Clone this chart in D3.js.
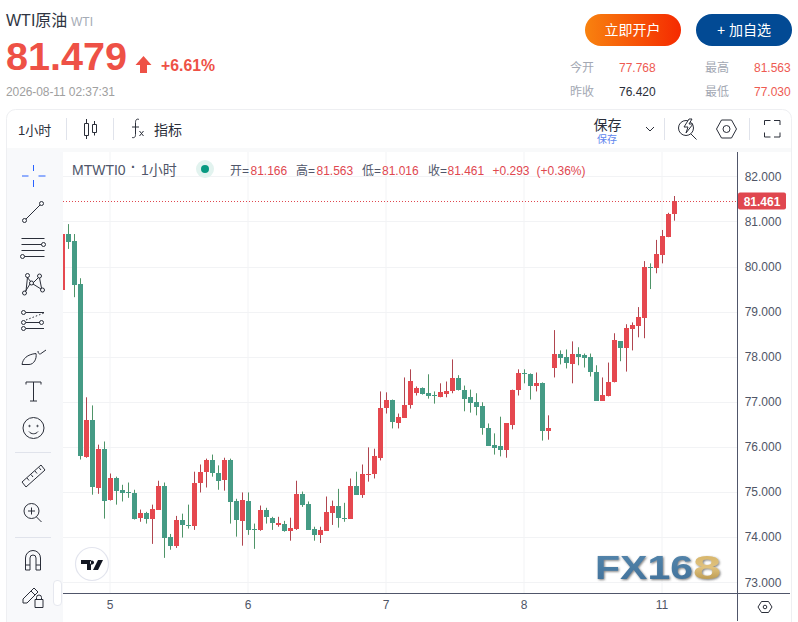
<!DOCTYPE html>
<html><head><meta charset="utf-8">
<script src="https://cdn.jsdelivr.net/npm/d3@7/dist/d3.min.js"></script>
<style>html,body{margin:0;padding:0;background:#fff;overflow:hidden}svg{display:block}text{font-family:"Liberation Sans","Noto Sans CJK SC",sans-serif}</style>
</head><body><div id="c"></div>
<script>
const opens=[79.47,80.72,80.56,79.61,75.76,76.59,75.10,75.96,74.81,75.30,75.05,75.00,74.98,74.43,74.54,74.41,74.61,75.14,74.01,73.81,74.39,74.27,74.25,75.21,75.43,75.70,75.43,75.25,75.70,74.79,74.36,74.81,74.18,74.14,74.59,74.43,74.27,74.30,74.14,74.19,74.96,74.74,74.19,74.05,74.14,74.54,74.70,74.43,74.41,75.14,74.94,75.39,75.39,75.76,76.85,77.03,76.54,76.65,76.94,77.19,77.30,77.19,77.14,77.10,77.19,77.23,77.52,77.27,77.10,76.99,76.90,76.43,76.05,76.01,75.92,76.50,77.25,77.63,77.61,77.34,77.41,76.34,77.74,78.07,77.99,77.85,78.07,78.03,77.99,77.67,77.03,77.14,77.43,78.34,78.19,78.61,78.67,78.85,79.99,79.96,80.25,80.65,81.166];
const closes=[80.72,80.54,79.59,75.79,76.59,75.10,75.96,74.81,75.30,75.01,74.98,74.99,74.41,74.54,74.41,74.63,75.14,73.99,73.81,74.39,74.27,74.26,75.21,75.45,75.70,75.41,75.25,75.70,74.76,74.36,74.83,74.16,74.17,74.59,74.43,74.32,74.32,74.14,74.21,74.96,74.72,74.16,74.05,74.16,74.56,74.70,74.43,74.41,75.14,74.94,75.41,75.41,75.79,76.87,77.03,76.54,76.67,76.94,77.47,77.30,77.16,77.12,77.12,77.21,77.25,77.52,77.25,77.07,76.96,76.87,76.41,76.03,75.99,75.92,76.52,77.27,77.63,77.62,77.34,77.41,76.34,76.41,78.05,77.99,77.85,78.07,78.01,77.96,77.65,77.03,77.16,77.45,78.36,78.19,78.63,78.70,78.87,79.99,79.98,80.27,80.67,81.16,81.461];
const highs=[80.72,80.94,80.72,79.74,77.10,76.92,76.05,76.12,75.41,75.34,75.16,75.21,75.05,74.61,74.56,74.72,75.25,75.21,74.07,74.47,74.52,74.72,75.45,75.61,75.74,75.83,75.59,75.76,75.74,74.85,74.99,74.99,74.30,74.70,74.65,74.45,74.45,74.36,74.43,75.25,75.01,74.79,74.23,74.23,74.90,74.81,75.07,74.76,75.30,75.45,75.61,75.99,75.96,77.23,77.21,77.05,76.74,77.54,77.72,77.34,77.32,77.61,77.23,77.41,77.45,77.94,77.59,77.36,77.27,77.19,76.99,76.52,76.30,76.67,76.52,77.27,77.72,77.72,77.63,77.65,77.43,76.70,78.59,78.14,78.16,78.34,78.21,78.07,78.07,77.81,77.54,77.87,78.52,78.34,78.72,78.76,79.10,80.12,80.07,80.59,80.81,81.19,81.563];
const lows=[79.47,80.39,79.32,75.72,75.76,74.94,74.96,74.41,74.81,74.72,74.79,74.87,74.39,74.34,74.30,73.85,74.61,73.54,73.72,73.76,73.99,74.19,74.16,74.99,75.10,75.34,75.05,75.03,74.30,74.01,73.81,74.05,73.74,74.14,74.30,74.16,74.23,74.12,73.92,74.16,74.67,74.16,73.92,73.87,74.14,74.27,74.21,74.34,74.41,74.94,74.87,75.23,75.30,75.70,76.74,76.41,76.41,76.65,76.85,77.14,77.16,77.07,76.96,77.10,77.10,77.19,77.25,76.79,76.76,76.70,76.27,76.03,75.83,75.79,75.76,76.39,77.14,77.41,77.05,77.23,76.14,76.16,77.54,77.83,77.74,77.41,77.81,77.76,77.56,77.03,77.03,77.12,77.43,77.90,77.67,78.14,78.43,78.41,79.50,79.85,80.07,80.65,81.016];
const priceTicks=[73,74,75,76,77,78,79,80,81,82];
const dayTickIndex=[8,31,54,77,100];
const dayTickLabels=["5","6","7","8","11"];
const lastPrice=81.461;
const legendParts=[["开=",230,"#50566a"],["81.166",250.5,"#e0474f"],["高=",296,"#50566a"],["81.563",316.5,"#e0474f"],["低=",362,"#50566a"],["81.016",382,"#e0474f"],["收=",428,"#50566a"],["81.461",447.5,"#e0474f"],["+0.293",492.5,"#e0474f"],["(+0.36%)",536.5,"#e0474f"]];
const statRows=[["今开","77.768","#ee5a52",570,619,72],["最高","81.563","#ee5a52",705,754,72],["昨收","76.420","#2a2e39",570,619,96],["最低","77.030","#ee5a52",705,754,96]];

const W=798,H=622,L=63,R=737,T=152,B=593;
const svg=d3.select("#c").append("svg").attr("width",W).attr("height",H);
const defs=svg.append("defs");
const g1=defs.append("linearGradient").attr("id","btn");
g1.append("stop").attr("offset","0").attr("stop-color","#f8820f");
g1.append("stop").attr("offset","1").attr("stop-color","#f52a00");
const g2=defs.append("linearGradient").attr("id","gold").attr("x1",0).attr("x2",0).attr("y1",0).attr("y2",1);
g2.append("stop").attr("offset","0").attr("stop-color","#d4b060");
g2.append("stop").attr("offset","0.5").attr("stop-color","#e0c27e");
g2.append("stop").attr("offset","1").attr("stop-color","#a9853a");
const g3=defs.append("linearGradient").attr("id","blue").attr("x1",0).attr("x2",0).attr("y1",0).attr("y2",1);
g3.append("stop").attr("offset","0").attr("stop-color","#5687ad");
g3.append("stop").attr("offset","1").attr("stop-color","#3f7099");
defs.append("filter").attr("id","sh").append("feDropShadow").attr("dx",1).attr("dy",1).attr("stdDeviation",0.8).attr("flood-color","#444").attr("flood-opacity",0.7);
defs.append("clipPath").attr("id","plot").append("rect").attr("x",L).attr("y",T).attr("width",R-L).attr("height",B-T);

const txt=(s,x,y,size,fill,opt={})=>{const t=svg.append("text").attr("x",x).attr("y",y).attr("font-size",size).attr("fill",fill).text(s);
 if(opt.weight)t.attr("font-weight",opt.weight); if(opt.anchor)t.attr("text-anchor",opt.anchor); if(opt.len)t.attr("textLength",opt.len); return t;};

// header
txt("WTI原油",6,26,16,"#2f3542");
txt("WTI",71,26,12,"#a5abb6");
txt("81.479",6,70,39.6,"#ee5146",{weight:"bold"});
svg.append("path").attr("d","M143.500 56 L151.500 65 L147 65 L147 73 L140 73 L140 65 L135.500 65 Z").attr("fill","#ee5146");
txt("+6.61%",161,71,15.8,"#ee5146",{weight:"bold"});
txt("2026-08-11 02:37:31",6,96,12,"#a0a0a0",{len:109});
svg.append("rect").attr("x",585).attr("y",14).attr("width",96).attr("height",32).attr("rx",16).attr("fill","url(#btn)");
txt("立即开户",632.5,35,14,"#fff",{anchor:"middle"});
svg.append("rect").attr("x",696).attr("y",14).attr("width",96).attr("height",32).attr("rx",16).attr("fill","#024a94");
txt("+ 加自选",744,35,14,"#fff",{anchor:"middle"});
statRows.forEach(r=>{txt(r[0],r[3],r[5],12,"#a3a8b3");txt(r[1],r[4],r[5],12,r[2]);});

// card and toolbars
svg.append("rect").attr("x",6.5).attr("y",109.5).attr("width",785).attr("height",530).attr("rx",9).attr("fill","#fff").attr("stroke","#eeeff2");
svg.append("rect").attr("x",7).attr("y",148).attr("width",784).attr("height",4).attr("fill","#f8f9fa");
svg.append("rect").attr("x",7).attr("y",150).attr("width",56).attr("height",472).attr("fill","#f8f9fb");
svg.append("rect").attr("x",60).attr("y",152).attr("width",3).attr("height",470).attr("fill","#f7f8fa");
[66.5,113.500,664.5,749.5].forEach(x=>svg.append("line").attr("x1",x).attr("x2",x).attr("y1",118).attr("y2",140).attr("stroke","#e0e3eb"));
txt("1小时",18,135,13,"#2a2e39");
txt("指标",154,135,14,"#2a2e39");
txt("保存",593.5,130,14,"#2a2e39");
txt("保存",597,143,10,"#5f86ee");
const ic=svg.append("g").attr("fill","none").attr("stroke","#2a2e39").attr("stroke-width",1);
const p=(d,s)=>{const e=ic.append("path").attr("d",d); if(s)e.attr("stroke",s); return e;};
const c=(x,y,r)=>ic.append("circle").attr("cx",x).attr("cy",y).attr("r",r);
// candle icon
p("M84.500 123.500h4v12h-4zM86.500 119v4.500M86.500 135.500v3.500M92.500 124.500h4v8h-4zM94.500 121v3.500M94.500 132.500v3");
// fx
p("M139 119.500c-2-1-3.500 0-3.500 3v12c0 3-1.500 3.500-3.500 3M132 127h7M139.500 131l4 5M143.500 131l-4 5");
// chevron
p("M646 127l4 4 4-4");
// flash search
c(686,128,7.500);p("M691 134l5.500 5.500");p("M689 119l-5 8h4l-2 6 7-9h-4l3-5z").attr("fill","#fff");
// hexagon
p("M716.500 129l5-9h10l5 9-5 9h-10z");c(726.5,129,3.500);
// fullscreen
p("M764.500 125v-4.500h6M774 120.500h6v4.500M764.500 132.500v4.500h6M774 137h6v-4.500");
// left tools
p("M33.500 165v6M33.500 180v7M22 176h6.500M38.500 176h7","#2962ff");
c(24.5,220.5,2);c(41.5,203.5,2);p("M26 219l14-14");
p("M21.500 238.500h23M21.500 244.500h20M21.500 250.500h23M24.500 256.500h20");c(43.5,244.5,2);c(22.5,256.5,2);
[[27.5,275.500],[39.500,276],[31.500,283],[24.5,293],[42.500,290]].forEach(a=>c(a[0],a[1],2));
p("M27 277l4 5M38 278l-5 5M26 291l1.500-14M41.500 288l-2-10M33 284l8 5M30 284l-5 8");
c(23.500,312.500,2);c(23.500,322.500,2);c(41.500,322.500,2);c(23.500,328.500,2);
p("M26 312.500h18M26 322.500h14M26 328.500h18");p("M26 320l18-7").attr("stroke-dasharray","1.500 2");
p("M22 364.500c1-6 5-10 14-11 1 5-2 11-7 11zM38 351c0 3 2 3.500 3 2.500l5-3.500");
p("M26 384.500v-2.500h15v2.500M33.500 382v19M30 401h7");
c(33.500,428,10.500);c(29.500,426,.7);c(37.500,426,.7);p("M29 431.500c2 3 7 3 9 0");
svg.append("line").attr("x1",15).attr("x2",51).attr("y1",452.5).attr("y2",452.5).attr("stroke","#e0e3eb");
p("M22 482l19-17 4 5-19 17zM27 478l2 2.500M31 474.500l2 2.500M35 471l2 2.500M39 467.500l2 2.500");
c(31.500,511,7.500);p("M36.500 517l5 5M28 511h7M31.500 507.500v7");
svg.append("line").attr("x1",15).attr("x2",51).attr("y1",537.5).attr("y2",537.5).attr("stroke","#e0e3eb");
p("M25.500 570v-12a7.500 7.500 0 0 1 15 0v12h-4.500v-12a3 3 0 0 0-6 0v12zM25.500 565h4.500M36 565h4.500");
p("M23 599l11-11 4 4-11 11h-4zM31 591l4 4");p("M35 599.500h8v8h-8zM36.500 599.500v-2a2.500 2.500 0 0 1 5 0v2");

// scales
const y=d3.scaleLinear().domain([73,82]).range([582.2,176.3]);
const x=d3.scaleLinear().domain([0,102]).range([62.5,674.5]);
const plot=svg.append("g").attr("clip-path","url(#plot)");
plot.selectAll(".h").data(priceTicks).join("line").attr("x1",L).attr("x2",R).attr("y1",d=>Math.round(y(d))+.5).attr("y2",d=>Math.round(y(d))+.5).attr("stroke","#f2f3f5");
plot.selectAll(".v").data(dayTickIndex).join("line").attr("x1",d=>x(d)-.5).attr("x2",d=>x(d)-.5).attr("y1",T).attr("y2",B).attr("stroke","#f2f3f5");

const idx=d3.range(opens.length);
const up=i=>closes[i]>=opens[i]&&!(i===98||i===77||i===62||i===61||i===47||i===32||i===21||i===11);
plot.selectAll(".w").data(idx).join("rect").attr("x",i=>x(i)-.5).attr("width",1)
 .attr("y",i=>y(highs[i])).attr("height",i=>y(lows[i])-y(highs[i]))
 .attr("fill",i=>up(i)?"#b0454f":"#4f9468");
plot.selectAll(".b").data(idx).join("rect").attr("x",i=>x(i)-2.5).attr("width",5)
 .attr("y",i=>Math.round(y(Math.max(opens[i],closes[i]))))
 .attr("height",i=>Math.max(1,Math.round(Math.abs(y(opens[i])-y(closes[i])))))
 .attr("fill",i=>up(i)?"#e5484f":"#459b85");

// price line
plot.append("line").attr("x1",L).attr("x2",R).attr("y1",Math.round(y(lastPrice))+.5).attr("y2",Math.round(y(lastPrice))+.5).attr("stroke","#e0474f").attr("stroke-dasharray","1 2");

// axes
const ay=d3.axisRight(y).tickValues(priceTicks).tickFormat(d3.format(".3f")).tickSize(0).tickPadding(0);
const gy=svg.append("g").attr("transform",`translate(763,0)`).call(ay);
gy.select(".domain").remove();
gy.selectAll("text").attr("x",0).attr("text-anchor","middle").attr("font-size",12).attr("fill","#4f5566").attr("font-family",'"Liberation Sans",sans-serif');
const ax=d3.axisBottom(x).tickValues(dayTickIndex).tickFormat((d,i)=>dayTickLabels[i]).tickSize(0).tickPadding(0);
const gx=svg.append("g").attr("transform",`translate(-1,600)`).call(ax);
gx.select(".domain").remove();
gx.selectAll("text").attr("font-size",12).attr("fill","#4f5566").attr("font-family",'"Liberation Sans",sans-serif');
svg.append("line").attr("x1",63).attr("x2",790).attr("y1",593.5).attr("y2",593.5).attr("stroke","#50566a");
svg.append("line").attr("x1",737.5).attr("x2",737.5).attr("y1",152).attr("y2",621).attr("stroke","#50566a");
svg.append("rect").attr("x",738).attr("y",192.5).attr("width",48).attr("height",17).attr("rx",2).attr("fill","#e0474f");
txt(lastPrice.toFixed(3),762,206,12,"#fff",{weight:"bold",anchor:"middle"});
p("M758 607l3.500-5.500h7l3.500 5.500-3.500 5.500h-7z");c(765,607,1.800);

// scroll handle
svg.append("rect").attr("x",53.500).attr("y",580.5).attr("width",8).attr("height",25).attr("rx",3.5).attr("fill","#fff").attr("stroke","#e6e8ef");
p("M58.500 590l-2 3 2 3","#b6bac6");

// legend
txt("MTWTI0",72,175,14,"#50566a");
txt("·",131,172,14,"#50566a",{weight:"bold"});
txt("1小时",141,175,14,"#50566a");
svg.append("circle").attr("cx",205).attr("cy",169).attr("r",9).attr("fill","#e2f3ef");
svg.append("circle").attr("cx",205).attr("cy",169).attr("r",4).attr("fill","#089981");
legendParts.forEach(a=>txt(a[0],a[1],175,12,a[2]));

// TV logo
svg.append("circle").attr("cx",92).attr("cy",564).attr("r",16.5).attr("fill","#fff").attr("stroke","#e3e5ee").attr("stroke-width",1.2);
svg.append("path").attr("d","M81 560h10v10h-4v-6h-6z M92 560.500a2 2 0 1 0 .01 0z M98 560h5l-5 10h-5z").attr("fill","#131722");

// FX168 watermark
svg.append("text").attr("x",595).attr("y",579).attr("font-size",33).attr("font-weight","bold").attr("fill","url(#blue)").attr("filter","url(#sh)").attr("textLength",98).attr("lengthAdjust","spacingAndGlyphs").text("FX16");
svg.append("text").attr("x",693).attr("y",579).attr("font-size",33).attr("font-weight","bold").attr("fill","url(#gold)").attr("filter","url(#sh)").attr("textLength",28).attr("lengthAdjust","spacingAndGlyphs").text("8");
</script></body></html>
